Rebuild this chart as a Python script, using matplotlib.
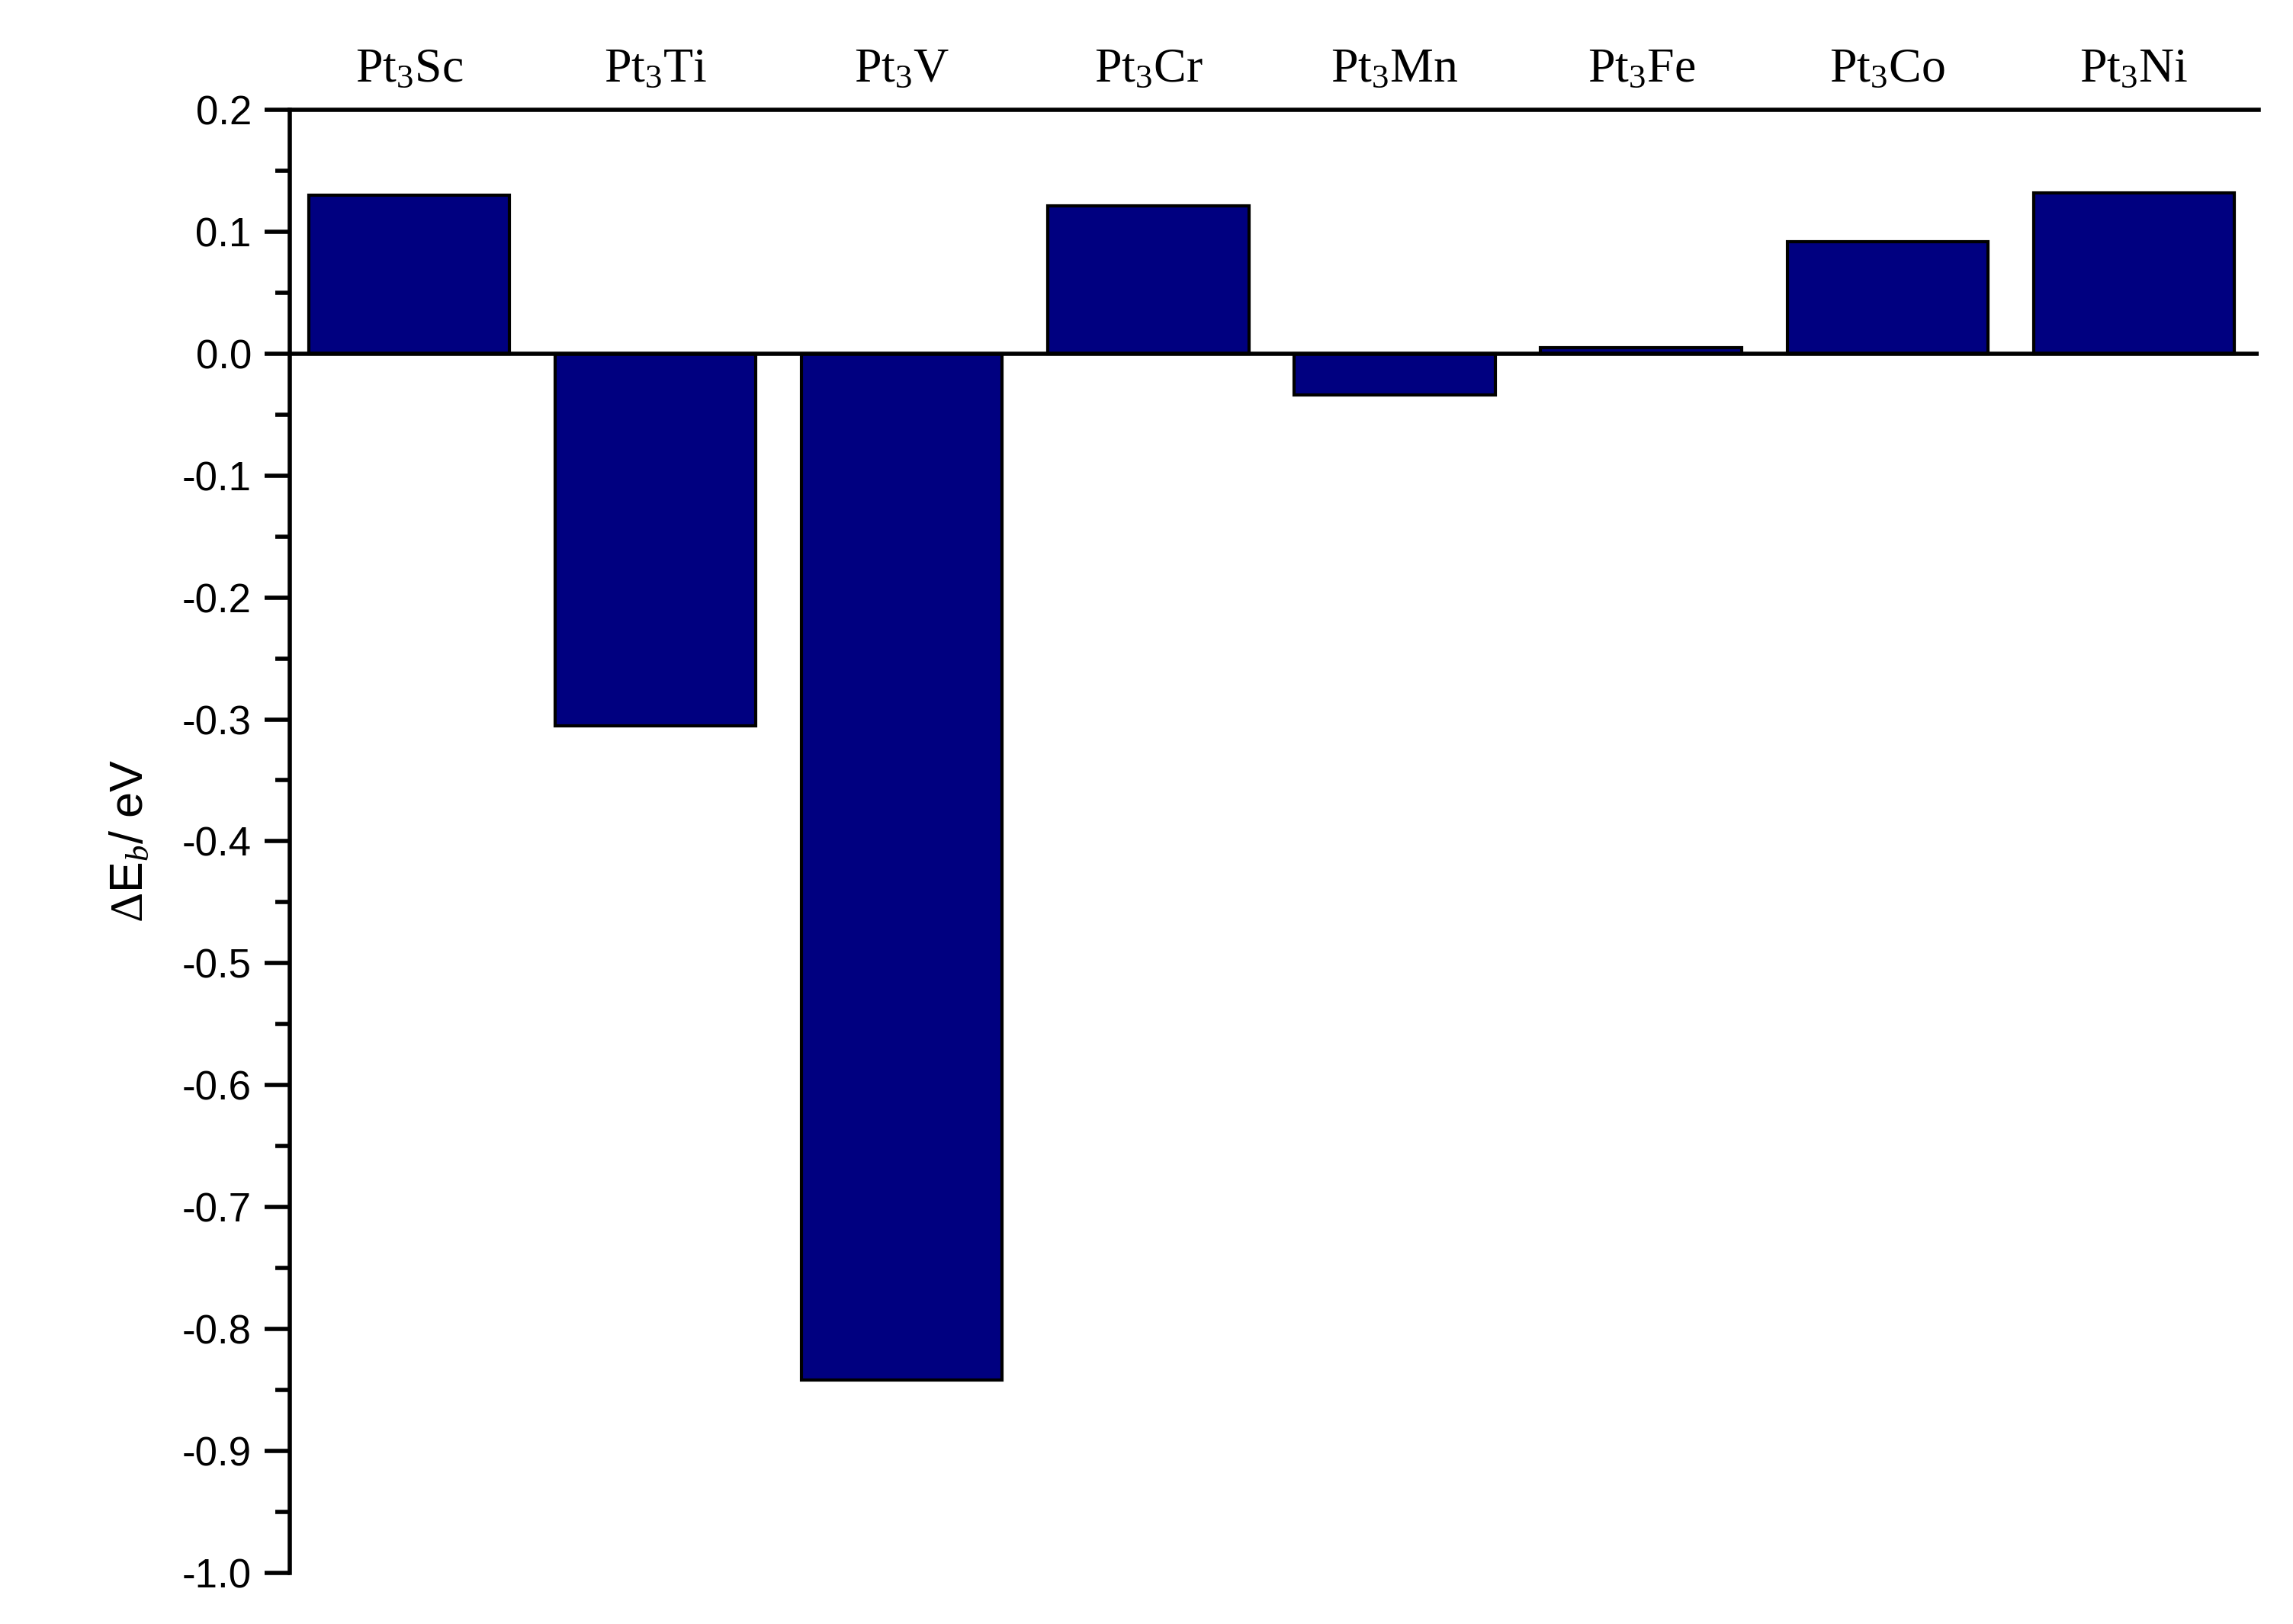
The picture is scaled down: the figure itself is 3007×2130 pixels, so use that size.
import matplotlib
matplotlib.use("Agg")
import matplotlib.pyplot as plt

plt.rcParams['mathtext.fontset'] = 'custom'
plt.rcParams['mathtext.rm'] = 'Liberation Serif'
plt.rcParams['mathtext.it'] = 'Liberation Serif:italic'

alloys = ['Sc', 'Ti', 'V', 'Cr', 'Mn', 'Fe', 'Co', 'Ni']
delta_eb = [0.130, -0.305, -0.842, 0.121, -0.034, 0.005, 0.092, 0.132]

fig = plt.figure(figsize=(15.035, 10.65), dpi=200)
ax = fig.add_axes([0.1263, 0.0315, 0.8587, 0.9009])

x = list(range(len(alloys)))
ax.bar(x, delta_eb, width=0.815, color='#000080', edgecolor='black', linewidth=1.5, zorder=2)
ax.axhline(0, color='black', linewidth=2, zorder=3)

ax.set_xlim(-0.485, 7.506)
ax.set_ylim(-1.0, 0.2)
ax.set_yticks([round(-1.0 + 0.1 * i, 1) for i in range(13)])
ax.set_yticks([-1.0 + 0.05 * i for i in range(25)], minor=True)
ax.yaxis.set_major_formatter(matplotlib.ticker.FormatStrFormatter('%.1f'))
for lab in ax.get_yticklabels():
    lab.set_family('Liberation Sans')
ax.tick_params(axis='y', which='major', length=12, width=2, labelsize=19, pad=6)
ax.tick_params(axis='y', which='minor', length=7, width=2)

ax.xaxis.tick_top()
ax.set_xticks(x)
ax.set_xticklabels(['Pt$_3$' + a for a in alloys], fontsize=23, family='Liberation Serif')
ax.tick_params(axis='x', length=0, pad=8)

ax.spines['right'].set_visible(False)
ax.spines['bottom'].set_visible(False)
ax.spines['left'].set_linewidth(2)
ax.spines['top'].set_linewidth(2)

ax.set_ylabel(r'$\Delta$E$_b$/ eV', fontsize=22, family='Liberation Sans', labelpad=14)

fig.savefig('out.png', dpi=200)
